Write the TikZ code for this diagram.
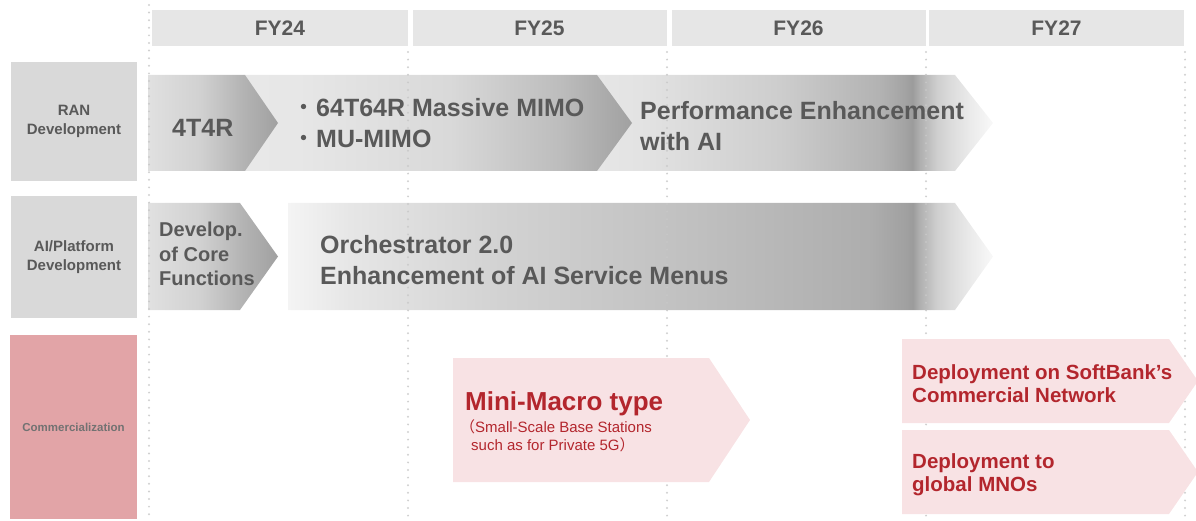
\documentclass[tikz,border=0pt]{standalone}
\usepackage{fontspec}
\setmainfont{Liberation Sans}
\newfontfamily\cjk{Noto Sans CJK JP}
\usetikzlibrary{positioning}

\definecolor{txtgray}{HTML}{595959}
\definecolor{hdrfill}{HTML}{E6E6E6}
\definecolor{lblfill}{HTML}{D9D9D9}
\definecolor{comfill}{HTML}{E2A4A7}
\definecolor{pinkfill}{HTML}{F8E2E4}
\definecolor{redtxt}{HTML}{B3262D}
\definecolor{dotgray}{HTML}{C8C8C8}

% horizontal shadings: the path's bounding box spans 25bp..75bp
\pgfdeclarehorizontalshading{shFour}{100bp}{
  rgb(0bp)=(0.88,0.88,0.88); rgb(25bp)=(0.88,0.88,0.88);
  rgb(45bp)=(0.82,0.82,0.82); rgb(62bp)=(0.70,0.70,0.70);
  rgb(75bp)=(0.63,0.63,0.63); rgb(100bp)=(0.63,0.63,0.63)}
\pgfdeclarehorizontalshading{shMimo}{100bp}{
  rgb(0bp)=(0.91,0.91,0.91); rgb(25bp)=(0.91,0.91,0.91);
  rgb(32bp)=(0.905,0.905,0.905); rgb(51.5bp)=(0.85,0.85,0.85);
  rgb(65.7bp)=(0.74,0.74,0.74);
  rgb(75bp)=(0.63,0.63,0.63); rgb(100bp)=(0.63,0.63,0.63)}
\pgfdeclarehorizontalshading{shPerf}{100bp}{
  rgb(0bp)=(0.902,0.902,0.902); rgb(25bp)=(0.902,0.902,0.902);
  rgb(30.4bp)=(0.89,0.89,0.89); rgb(48.1bp)=(0.804,0.804,0.804);
  rgb(60.7bp)=(0.70,0.70,0.70); rgb(63.9bp)=(0.64,0.64,0.64);
  rgb(64.8bp)=(0.61,0.61,0.61); rgb(65.8bp)=(0.69,0.69,0.69);
  rgb(67.9bp)=(0.81,0.81,0.81); rgb(70bp)=(0.87,0.87,0.87);
  rgb(72.1bp)=(0.92,0.92,0.92);
  rgb(75bp)=(0.975,0.975,0.975); rgb(100bp)=(0.975,0.975,0.975)}
\pgfdeclarehorizontalshading{shOrch}{100bp}{
  rgb(0bp)=(0.957,0.957,0.957); rgb(25bp)=(0.957,0.957,0.957);
  rgb(29.4bp)=(0.902,0.902,0.902); rgb(40bp)=(0.824,0.824,0.824);
  rgb(54.2bp)=(0.75,0.75,0.75); rgb(66.3bp)=(0.68,0.68,0.68);
  rgb(68.8bp)=(0.63,0.63,0.63); rgb(69.3bp)=(0.61,0.61,0.61);
  rgb(69.8bp)=(0.69,0.69,0.69); rgb(71bp)=(0.81,0.81,0.81);
  rgb(72.2bp)=(0.87,0.87,0.87); rgb(73.4bp)=(0.92,0.92,0.92);
  rgb(75bp)=(0.975,0.975,0.975); rgb(100bp)=(0.975,0.975,0.975)}

\tikzset{
  hdr/.style={fill=hdrfill, minimum height=36pt, inner sep=0pt,
    font=\bfseries\fontsize{21}{21}\selectfont, text=txtgray},
  lbl/.style={fill=lblfill, minimum width=126pt, inner sep=0pt, align=center,
    font=\bfseries\fontsize{15}{19}\selectfont, text=txtgray},
  yearline/.style={dotgray, line width=2.2pt, line cap=round,
    dash pattern=on 0pt off 7.6pt, opacity=0.85},
  graytxt/.style={inner sep=0pt, anchor=west, align=left, text=txtgray,
    font=\bfseries\fontsize{25}{31}\selectfont},
  smallgraytxt/.style={inner sep=0pt, anchor=west, align=left, text=txtgray,
    font=\bfseries\fontsize{20}{24.5}\selectfont},
  redtxtbig/.style={inner sep=0pt, anchor=west, align=left, text=redtxt,
    font=\bfseries\fontsize{26}{30}\selectfont},
  redtxtsmall/.style={inner sep=0pt, anchor=west, align=left, text=redtxt,
    font=\fontsize{15}{18}\selectfont},
  redtxtmid/.style={inner sep=0pt, anchor=west, align=left, text=redtxt,
    font=\bfseries\fontsize{20.5}{23}\selectfont},
}

% chevron from x=#2 (left), flat edge ends at #3, tip at #4, rows #5..#6
\newcommand{\chev}[6][]{%
  \path[#1] (#2,#5) -- (#3,#5) -- ({#4},{(#5+#6)/2}) -- (#3,#6) -- (#2,#6) -- cycle;}

\begin{document}
\begin{tikzpicture}[x=1pt,y=-1pt]
\useasboundingbox (0,0) rectangle (1196,521);

% fiscal year headers
\node[hdr, minimum width=256pt] (fy24) at (280,28) {FY24};
\node[hdr, minimum width=254pt] (fy25) at (539.5,28) {FY25};
\node[hdr, minimum width=254pt] (fy26) at (798.5,28) {FY26};
\node[hdr, minimum width=255pt] (fy27) at (1056.5,28) {FY27};

% row labels
\node[lbl, minimum height=119pt] (ran) at (74,121.5) {RAN\\Development};
\node[lbl, minimum height=122pt] (aip) at (74,257) {AI/Platform\\Development};
\node[lbl, fill=comfill, minimum width=127pt, minimum height=184pt,
  text=txtgray!85, font=\bfseries\fontsize{11.5}{13}\selectfont]
  (com) at (73.5,427) {Commercialization};

% RAN development row
\chev[shading=shPerf]{597}{955}{993}{75}{171}
\chev[shading=shMimo]{245}{597}{632}{75}{171}
\chev[shading=shFour]{148}{245}{278}{75}{171}

% AI/Platform development row
\chev[shading=shOrch]{288}{955}{993}{203}{310}
\chev[shading=shFour]{148}{240}{278}{203}{310}

% dotted year separators
\draw[yearline] (149,5) -- (149,521);
\foreach \xx in {408,667,926,1185}
  \draw[yearline] (\xx,52) -- (\xx,521);

% commercialization row
\chev[fill=pinkfill]{453}{709}{750}{358}{482}
\chev[fill=pinkfill]{902}{1169}{1198}{339}{423}
\chev[fill=pinkfill]{902}{1169}{1198}{430}{514}

% texts
\node[graytxt] (t4r) at (172,128) {4T4R};
\node[graytxt] (tmimo) at (291,123.5)
  {{\cjk\mdseries ・}64T64R Massive MIMO\\{\cjk\mdseries ・}MU-MIMO};
\node[graytxt] (tperf) at (640,126) {Performance Enhancement\\with AI};
\node[smallgraytxt] (tcore) at (159,254) {Develop.\\of Core\\Functions};
\node[graytxt] (torch) at (320,260.5) {Orchestrator 2.0\\Enhancement of AI Service Menus};

\node[redtxtbig] (tmini) at (465,404) {Mini-Macro type};
\node[redtxtsmall] (tsmall) at (460,436)
  {{\cjk （}Small-Scale Base Stations\\\hspace*{11pt}such as for Private 5G{\cjk ）}};
\node[redtxtmid] (tsb) at (912,383.5) {Deployment on SoftBank’s\\Commercial Network};
\node[redtxtmid] (tmno) at (912,474.5) {Deployment to\\global MNOs};
\end{tikzpicture}
\end{document}
